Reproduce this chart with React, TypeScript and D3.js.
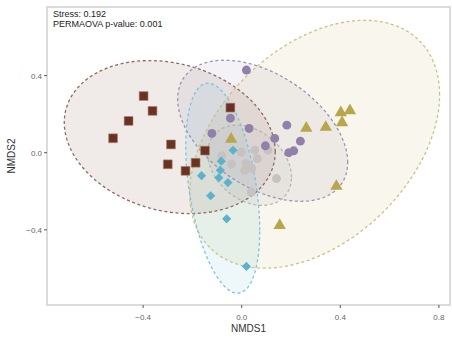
import React from 'react'
import * as d3 from 'd3'

// point coordinates (NMDS1, NMDS2)
const brownX = [-0.398, -0.362, -0.459, -0.522, -0.287, -0.300, -0.228, -0.187, -0.149, -0.046]
const brownY = [0.294, 0.217, 0.165, 0.075, 0.043, -0.060, -0.094, -0.052, 0.011, 0.234]

const purpleX = [0.019, -0.046, -0.121, 0.030, 0.134, 0.096, 0.183, 0.238, 0.191, 0.211]
const purpleY = [0.429, 0.179, 0.100, 0.126, 0.074, 0.036, 0.143, 0.060, 0.000, 0.010]

const yellowX = [0.262, 0.341, 0.402, 0.439, 0.407, 0.384, -0.043, 0.154]
const yellowY = [0.127, 0.132, 0.208, 0.218, 0.156, -0.174, 0.070, -0.377]

const blueX = [-0.035, -0.083, -0.087, -0.163, -0.093, -0.056, -0.126, -0.061, 0.019]
const blueY = [0.013, -0.044, -0.091, -0.119, -0.130, -0.155, -0.223, -0.343, -0.590]

const grayX = [-0.081, -0.041, -0.002, 0.018, 0.053, 0.063, 0.012, 0.041, 0.141, 0.039, 0.106]
const grayY = [-0.016, -0.060, 0.003, -0.055, 0.013, -0.031, -0.091, -0.081, -0.134, -0.204, 0.013]

// ellipses: centre, half width, half height, correlation
const ellipseNames = ['brown', 'yellow', 'purple', 'gray', 'blue']
const ellipseCx = [-0.292, 0.296, 0.085, 0.032, -0.077]
const ellipseCy = [0.081, 0.044, 0.114, -0.065, -0.184]
const ellipseHx = [0.428, 0.507, 0.345, 0.170, 0.150]
const ellipseHy = [0.397, 0.643, 0.366, 0.208, 0.545]
const ellipseR = [-0.19, 0.4, -0.45, -0.3, -0.4]

const xTicks = [-0.4, 0.0, 0.4, 0.8]
const yTicks = [-0.4, 0.0, 0.4]

const colors: Record<string, string> = {
  brown: '#6b3222',
  purple: '#9080aa',
  yellow: '#b7a64c',
  blue: '#5cb2cb',
  gray: '#c8c1c1',
}
const lineColors: Record<string, string> = {
  brown: '#8d6a60',
  purple: '#9b93b0',
  yellow: '#cbc285',
  blue: '#7cc4de',
  gray: '#b9b3b3',
}

const W = 452
const H = 341
const left = 47, right = 450, top = 7, bottom = 305

export default function App() {
  const x = d3.scaleLinear().domain([-0.79, 0.845]).range([left, right])
  const y = d3.scaleLinear().domain([-0.79, 0.756]).range([bottom, top])

  const ellipsePath = (i: number) => {
    const s = Math.sqrt(1 - ellipseR[i] * ellipseR[i])
    const pts: [number, number][] = d3.range(0, 361, 3).map(deg => {
      const p = (deg * Math.PI) / 180
      const dx = ellipseHx[i] * Math.cos(p)
      const dy = ellipseHy[i] * (ellipseR[i] * Math.cos(p) + s * Math.sin(p))
      return [x(ellipseCx[i] + dx), y(ellipseCy[i] + dy)]
    })
    return d3.line().curve(d3.curveLinearClosed)(pts) || ''
  }

  const sq = d3.symbol().type(d3.symbolSquare).size(78)()
  const circ = d3.symbol().type(d3.symbolCircle).size(62)()
  const tri = d3.symbol().type(d3.symbolTriangle).size(66)()
  const dia = d3.symbol().type(d3.symbolSquare).size(42)()

  const font = '"Liberation Sans", Arial, sans-serif'

  return (
    <svg width={W} height={H} style={{ position: 'absolute', left: 0, top: 0 }}>
      <rect x={0} y={0} width={W} height={H} fill="#fff" />
      {ellipseNames.map((n, i) => (
        <path key={'f' + n} d={ellipsePath(i)} fill={colors[n]} fillOpacity={n === 'gray' ? 0.18 : 0.1} stroke="none" />
      ))}
      {ellipseNames.map((n, i) => (
        <path key={'s' + n} d={ellipsePath(i)} fill="none" stroke={lineColors[n]} strokeWidth={1.3} strokeDasharray="3,2.6" />
      ))}

      {grayX.map((v, i) => (
        <path key={'g' + i} d={circ} transform={`translate(${x(v)},${y(grayY[i])})`} fill={colors.gray} />
      ))}
      {purpleX.map((v, i) => (
        <path key={'p' + i} d={circ} transform={`translate(${x(v)},${y(purpleY[i])})`} fill={colors.purple} />
      ))}
      {blueX.map((v, i) => (
        <path key={'b' + i} d={dia} transform={`translate(${x(v)},${y(blueY[i])}) rotate(45)`} fill={colors.blue} />
      ))}
      {yellowX.map((v, i) => (
        <path key={'y' + i} d={tri} transform={`translate(${x(v)},${y(yellowY[i])})`} fill={colors.yellow} />
      ))}
      {brownX.map((v, i) => (
        <path key={'r' + i} d={sq} transform={`translate(${x(v)},${y(brownY[i])})`} fill={colors.brown} stroke="#a88478" strokeWidth={0.6} />
      ))}

      <rect x={left} y={top} width={right - left} height={bottom - top} fill="none" stroke="#cfcfcf" strokeWidth={1.5} />

      {xTicks.map(t => (
        <g key={'xt' + t}>
          <line x1={x(t)} x2={x(t)} y1={bottom} y2={bottom + 3} stroke="#555" strokeWidth={1} />
          <text x={x(t)} y={320} textAnchor="middle" fontSize={8} fill="#666" fontFamily={font}>
            {d3.format('.1f')(t).replace('-', '\u2212')}
          </text>
        </g>
      ))}
      {yTicks.map(t => (
        <g key={'yt' + t}>
          <line x1={left - 3} x2={left} y1={y(t)} y2={y(t)} stroke="#555" strokeWidth={1} />
          <text x={left - 5} y={y(t) + 3} textAnchor="end" fontSize={8} fill="#666" fontFamily={font}>
            {d3.format('.1f')(t).replace('-', '\u2212')}
          </text>
        </g>
      ))}

      <text x={(left + right) / 2} y={332} textAnchor="middle" fontSize={10} fill="#333" fontFamily={font}>NMDS1</text>
      <text transform={`translate(15,${(top + bottom) / 2}) rotate(-90)`} textAnchor="middle" fontSize={10} fill="#333" fontFamily={font}>NMDS2</text>

      <text x={53} y={17} fontSize={9} fill="#222" fontFamily={font}>Stress: 0.192</text>
      <text x={53} y={27} fontSize={9} fill="#222" fontFamily={font}>PERMAOVA p-value: 0.001</text>
    </svg>
  )
}
